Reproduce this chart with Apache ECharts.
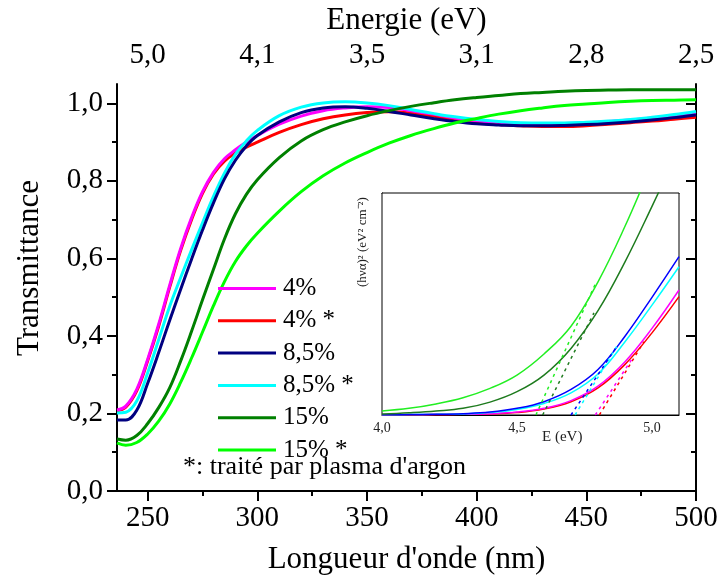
<!DOCTYPE html>
<html><head><meta charset="utf-8">
<script src="https://cdn.jsdelivr.net/npm/echarts@6/dist/echarts.min.js"></script>
<style>html,body{margin:0;padding:0;background:#fff}#c{width:721px;height:580px}</style>
</head><body><div id="c"></div>
<script>
// ---------- data ----------
const wavelengths = [236,240,245,250,255,260,265,270,275,280,285,290,295,300,310,320,330,340,350,360,370,380,390,400,410,420,430,440,450,460,470,480,490,500];
const t4   = [0.209,0.219,0.262,0.340,0.430,0.530,0.625,0.705,0.772,0.822,0.857,0.880,0.900,0.917,0.946,0.967,0.981,0.988,0.991,0.989,0.981,0.972,0.962,0.955,0.951,0.948,0.947,0.948,0.950,0.953,0.957,0.962,0.967,0.972];
const t4s  = [0.207,0.216,0.258,0.336,0.425,0.525,0.620,0.700,0.768,0.818,0.851,0.872,0.887,0.900,0.925,0.945,0.960,0.970,0.976,0.978,0.975,0.967,0.958,0.950,0.945,0.942,0.940,0.940,0.942,0.946,0.950,0.954,0.959,0.964];
const t85  = [0.183,0.183,0.208,0.278,0.357,0.440,0.520,0.598,0.673,0.743,0.805,0.853,0.890,0.917,0.952,0.976,0.988,0.991,0.987,0.979,0.970,0.961,0.953,0.947,0.944,0.942,0.942,0.943,0.945,0.948,0.952,0.957,0.963,0.970];
const t85s = [0.201,0.203,0.232,0.305,0.390,0.476,0.550,0.622,0.692,0.760,0.820,0.868,0.903,0.930,0.968,0.990,1.001,1.004,1.001,0.994,0.984,0.974,0.965,0.958,0.953,0.950,0.949,0.949,0.951,0.954,0.958,0.964,0.971,0.979];
const t15  = [0.134,0.131,0.143,0.174,0.215,0.266,0.335,0.412,0.493,0.572,0.650,0.715,0.765,0.803,0.860,0.903,0.932,0.952,0.968,0.981,0.992,1.001,1.009,1.015,1.020,1.025,1.028,1.031,1.033,1.034,1.035,1.035,1.035,1.035];
const t15s = [0.124,0.118,0.125,0.147,0.180,0.224,0.280,0.343,0.410,0.478,0.540,0.592,0.632,0.665,0.722,0.772,0.813,0.846,0.873,0.897,0.917,0.934,0.949,0.961,0.972,0.981,0.988,0.994,0.998,1.002,1.005,1.007,1.008,1.009];

const seriesNames = ['4%','4% *','8,5%','8,5% *','15%','15% *'];

// inset (Tauc plot)
const energies = [4.0,4.1,4.2,4.3,4.4,4.5,4.6,4.7,4.8,4.9,5.0,5.1];
const tauc4   = [0.000,0.001,0.002,0.003,0.006,0.013,0.030,0.065,0.130,0.240,0.390,0.563];
const tauc4s  = [0.000,0.001,0.002,0.003,0.005,0.011,0.027,0.060,0.122,0.228,0.370,0.533];
const tauc85  = [0.001,0.002,0.003,0.006,0.013,0.030,0.060,0.115,0.205,0.355,0.530,0.713];
const tauc85s = [0.001,0.002,0.003,0.005,0.011,0.025,0.052,0.100,0.185,0.330,0.495,0.668];
const tauc15  = [0.004,0.010,0.018,0.030,0.058,0.105,0.180,0.300,0.470,0.690,0.940,1.200];
const tauc15s = [0.018,0.030,0.050,0.078,0.120,0.180,0.275,0.400,0.600,0.850,1.130,1.400];
// tangent lines [E, value]
const tan4   = [[4.790,0],[4.930,0.26]];
const tan4s  = [[4.805,0],[4.970,0.33]];
const tan85  = [[4.700,0],[4.865,0.30]];
const tan85s = [[4.715,0],[4.870,0.31]];
const tan15  = [[4.595,0],[4.785,0.46]];
const tan15s = [[4.570,0],[4.790,0.59]];

// ticks
const wlMajorTicks = [250,300,350,400,450,500];
const wlMinorTicks = [275,325,375,425,475];
const energyLabels = ['5,0','4,1','3,5','3,1','2,8','2,5'];
const tMajorTicks = [0,0.2,0.4,0.6,0.8,1.0];
const tMinorTicks = [0.1,0.3,0.5,0.7,0.9];
const insetLabelTicks = [4.0,4.5,5.0];
const insetTicks = [4.1,4.2,4.3,4.4,4.5,4.6,4.7,4.8,4.9,5.0];

// ---------- chart ----------
const FONT = 'Liberation Serif';
const comma = v => v.toFixed(1).replace('.', ',');
const zip = (xs, ys) => xs.map((x, i) => [x, ys[i]]);

const mainColors = ['#FF00FF','#FF0000','#000080','#00FFFF','#008000','#00FF00'];
const insetColors = ['#FF00FF','#FF0000','#0000FF','#00FFFF','#1E7B1E','#22EE22'];
const mainData = [t4, t4s, t85, t85s, t15, t15s];
const insetData = [tauc4, tauc4s, tauc85, tauc85s, tauc15, tauc15s];
const tanData = [tan4, tan4s, tan85, tan85s, tan15, tan15s];

const chart = echarts.init(document.getElementById('c'), null, {renderer: 'canvas'});

const series = [];
const drawOrder = [1,0,3,2,5,4];
drawOrder.forEach(i => {
  series.push({
    type: 'line', name: seriesNames[i], xAxisIndex: 0, yAxisIndex: 0,
    data: zip(wavelengths, mainData[i]), showSymbol: false, symbol: 'none',
    smooth: 0.4, color: mainColors[i], lineStyle: {width: 3, color: mainColors[i]}, z: 3
  });
});
drawOrder.forEach(i => {
  series.push({
    type: 'line', name: 'inset ' + seriesNames[i], xAxisIndex: 4, yAxisIndex: 4,
    data: zip(energies, insetData[i]), showSymbol: false, symbol: 'none',
    smooth: 0.4, lineStyle: {width: 1.5, color: insetColors[i]}, z: 5, clip: true
  });
});
drawOrder.forEach(i => {
  series.push({
    type: 'line', name: 'tangent ' + seriesNames[i], xAxisIndex: 4, yAxisIndex: 4,
    data: tanData[i], showSymbol: false, symbol: 'none',
    lineStyle: {width: 1.5, color: insetColors[i], type: [3,4]}, z: 6, clip: true
  });
});

const option = {
  animation: false,
  backgroundColor: '#fff',
  textStyle: {fontFamily: FONT},
  grid: [
    {left: 117, top: 75, width: 579, height: 421.5},
    {left: 382, top: 193, width: 297, height: 222, show: true, backgroundColor: '#fff', borderColor: '#000', borderWidth: 1, z: 4}
  ],
  legend: {
    data: seriesNames, orient: 'vertical', left: 218, top: 276, padding: 0,
    icon: 'rect', itemWidth: 58, itemHeight: 3, itemGap: 7.3,
    textStyle: {fontFamily: FONT, fontSize: 25, color: '#000', lineHeight: 25, padding: [0,0,0,2]}
  },
  xAxis: [
    {gridIndex: 0, type: 'value', position: 'bottom', min: 236, max: 500,
     axisLine: {lineStyle: {color: '#000', width: 2}},
     axisTick: {customValues: wlMajorTicks, length: 10, lineStyle: {color: '#000', width: 2}},
     axisLabel: {customValues: wlMajorTicks, fontFamily: FONT, fontSize: 29, color: '#000', margin: 13},
     splitLine: {show: false},
     name: "Longueur d'onde (nm)", nameLocation: 'middle', nameGap: 53,
     nameTextStyle: {fontFamily: FONT, fontSize: 31, color: '#000'}},
    {gridIndex: 0, type: 'value', position: 'bottom', min: 236, max: 500,
     axisLine: {show: false},
     axisTick: {customValues: wlMinorTicks, length: 5, lineStyle: {color: '#000', width: 2}},
     axisLabel: {show: false}, splitLine: {show: false}},
    {gridIndex: 0, type: 'value', position: 'top', min: 236, max: 500,
     axisLine: {lineStyle: {color: '#000', width: 2}},
     axisTick: {customValues: wlMajorTicks, inside: true, length: 10, lineStyle: {color: '#000', width: 2}},
     axisLabel: {customValues: wlMajorTicks, fontFamily: FONT, fontSize: 29, color: '#000', margin: 14,
                 formatter: v => energyLabels[wlMajorTicks.indexOf(Math.round(v))]},
     splitLine: {show: false},
     name: 'Energie (eV)', nameLocation: 'middle', nameGap: 40,
     nameTextStyle: {fontFamily: FONT, fontSize: 31, color: '#000'}},
    {gridIndex: 0, type: 'value', position: 'top', min: 236, max: 500,
     axisLine: {show: false},
     axisTick: {customValues: wlMinorTicks, inside: true, length: 5, lineStyle: {color: '#000', width: 2}},
     axisLabel: {show: false}, splitLine: {show: false}},
    {gridIndex: 1, type: 'value', position: 'bottom', min: 4.0, max: 5.1,
     axisLine: {lineStyle: {color: '#000', width: 1}},
     axisTick: {customValues: insetTicks, inside: true, length: 4, lineStyle: {color: '#000', width: 1}},
     axisLabel: {customValues: insetLabelTicks, fontFamily: FONT, fontSize: 14, color: '#222', margin: 6, formatter: comma},
     splitLine: {show: false}},
    {gridIndex: 1, type: 'value', position: 'top', min: 4.0, max: 5.1,
     axisLine: {lineStyle: {color: '#000', width: 1}},
     axisTick: {customValues: insetTicks, inside: true, length: 4, lineStyle: {color: '#000', width: 1}},
     axisLabel: {show: false}, splitLine: {show: false}}
  ],
  yAxis: [
    {gridIndex: 0, type: 'value', position: 'left', min: 0, max: 1.05,
     axisLine: {show: true, lineStyle: {color: '#000', width: 2}},
     axisTick: {show: true, customValues: tMajorTicks, length: 10, lineStyle: {color: '#000', width: 2}},
     axisLabel: {customValues: tMajorTicks, fontFamily: FONT, fontSize: 29, color: '#000', margin: 14, formatter: comma},
     splitLine: {show: false}},
    {gridIndex: 0, type: 'value', position: 'left', min: 0, max: 1.05,
     axisLine: {show: false},
     axisTick: {show: true, customValues: tMinorTicks, length: 5, lineStyle: {color: '#000', width: 2}},
     axisLabel: {show: false}, splitLine: {show: false}},
    {gridIndex: 0, type: 'value', position: 'right', min: 0, max: 1.05,
     axisLine: {show: true, lineStyle: {color: '#000', width: 2}},
     axisTick: {show: true, customValues: tMajorTicks, inside: true, length: 10, lineStyle: {color: '#000', width: 2}},
     axisLabel: {show: false}, splitLine: {show: false}},
    {gridIndex: 0, type: 'value', position: 'right', min: 0, max: 1.05,
     axisLine: {show: false},
     axisTick: {show: true, customValues: tMinorTicks, inside: true, length: 5, lineStyle: {color: '#000', width: 2}},
     axisLabel: {show: false}, splitLine: {show: false}},
    {gridIndex: 1, type: 'value', position: 'left', min: 0, max: 1,
     axisLine: {show: true, lineStyle: {color: '#000', width: 1}},
     axisTick: {show: false}, axisLabel: {show: false}, splitLine: {show: false}}
  ],
  graphic: [
    {type: 'text', x: 30, y: 268, rotation: Math.PI / 2, z: 10,
     style: {text: 'Transmittance', fontFamily: FONT, fontSize: 31, fill: '#000', align: 'center', verticalAlign: 'middle'}},
    {type: 'text', left: 183, top: 454, z: 10,
     style: {text: "*: traité par plasma d'argon", fontFamily: FONT, fontSize: 26, fill: '#000'}},
    {type: 'text', x: 542, y: 430, z: 10,
     style: {text: 'E (eV)', fontFamily: FONT, fontSize: 15, fill: '#222'}},
    {type: 'text', x: 356, y: 287, rotation: Math.PI / 2, z: 10,
     style: {text: '(hνα)² (eV² cm⁻²)', fontFamily: FONT, fontSize: 13, fill: '#222'}}
  ],
  series: series
};
chart.setOption(option);
</script>
</body></html>
